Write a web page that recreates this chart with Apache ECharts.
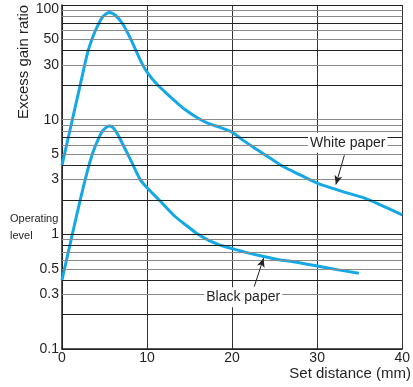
<!DOCTYPE html>
<html>
<head>
<meta charset="utf-8">
<script src="https://cdn.jsdelivr.net/npm/echarts@6/dist/echarts.min.js"></script>
<style>
html,body{margin:0;padding:0;background:#fff;}
#chart{width:413px;height:387px;}
</style>
</head>
<body>
<div id="chart"></div>
<script>
// ---- data ----
const xTicks = [0, 10, 20, 30, 40];
const yLabelValues = [100, 50, 30, 10, 5, 3, 1, 0.5, 0.3, 0.1];
const yGridValues = [0.1, 0.2, 0.3, 0.4, 0.5, 0.6, 0.7, 0.8, 0.9, 1, 2, 3, 4, 5, 6, 7, 8, 9, 10, 20, 30, 40, 50, 60, 70, 80, 90, 100];
const yDarkValues = [0.1, 0.2, 0.4, 0.8, 1, 2, 4, 7, 20, 40, 70, 100];
const whitePaper = [[0,4.0],[1,8.5],[2,18],[3,38],[3.6,52],[4.2,66],[4.8,79],[5.6,86],[6.3,81],[7.1,69],[8,52],[8.7,40],[9.4,31],[10,26],[11,21],[12.1,17.5],[13.3,14.5],[14.5,12.2],[16,10.3],[17.2,9.3],[18.5,8.6],[19.9,7.85],[21.3,6.6],[23,5.44],[24.5,4.6],[26,3.9],[28,3.3],[30,2.8],[33,2.36],[35.5,2.08],[37.5,1.8],[40,1.48]];
const blackPaper = [[0,0.40],[1,0.85],[2,1.8],[3,3.6],[3.6,5.1],[4.2,6.6],[4.8,8.0],[5.6,8.8],[6.3,8.0],[7.1,6.2],[8.3,4.1],[9.2,3.0],[10,2.55],[11.4,2.0],[13.3,1.43],[14.8,1.17],[16,1.0],[17.2,0.89],[18.5,0.81],[19.9,0.755],[21.5,0.70],[23.7,0.64],[25.5,0.60],[27.2,0.577],[30,0.53],[32.5,0.49],[34.9,0.457]];
const seriesNames = ['White paper', 'Black paper'];
const labelPos = { white: [33.6, 6.3], black: [21.3, 0.283] };
const arrowWhite = [[33.2, 4.9], [32.2, 2.72]];
const arrowBlack = [[22.6, 0.35], [23.7, 0.62]];

const FONT = '"Liberation Sans", Arial, Helvetica, sans-serif';
const TXT = '#231f20';
const CURVE = '#14a8e6';

const chart = echarts.init(document.getElementById('chart'), null, { renderer: 'canvas' });

const gridLines = yGridValues.map(v => {
  const item = {
    yAxis: v,
    lineStyle: { color: yDarkValues.includes(v) ? '#222' : '#8a8a8a', width: 1, type: 'solid' },
    label: { show: false }
  };
  if (yLabelValues.includes(v)) {
    item.label = {
      show: true, position: 'start', distance: 3,
      formatter: String(v), fontSize: 14, color: TXT, fontFamily: FONT,
      offset: v === 100 ? [0, 4] : [0, 0]
    };
  }
  return item;
});

chart.setOption({
  animation: false,
  backgroundColor: '#fff',
  grid: { left: 62, right: 6, top: 5, bottom: 38, containLabel: false },
  xAxis: {
    type: 'value', min: 0, max: 40, interval: 10,
    axisLine: { show: true, lineStyle: { color: '#222', width: 1.5 } },
    axisTick: { show: false },
    axisLabel: { fontSize: 14, color: TXT, fontFamily: FONT, margin: 2,
      formatter: v => xTicks.includes(v) ? String(v) : '' },
    splitLine: { show: true, lineStyle: { color: '#333', width: 1 } }
  },
  yAxis: {
    type: 'log', logBase: 10, min: 0.1, max: 100,
    axisLine: { show: true, lineStyle: { color: '#222', width: 1.5 } },
    axisTick: { show: false },
    axisLabel: { show: false },
    splitLine: { show: false }
  },
  graphic: [
    { type: 'text', x: 24, y: 62, rotation: Math.PI / 2, z: 10,
      style: { text: 'Excess gain ratio', font: '15px ' + FONT, fill: TXT, align: 'center', verticalAlign: 'middle' } },
    { type: 'text', x: 10, y: 210, z: 10,
      style: { text: 'Operating\nlevel', font: '11px ' + FONT, fill: TXT, align: 'left', verticalAlign: 'top', lineHeight: 17 } },
    { type: 'text', right: 2, top: 366, z: 10,
      style: { text: 'Set distance (mm)', font: '15px ' + FONT, fill: TXT } }
  ],
  series: [
    {
      type: 'line', name: 'grid', data: [], z: 1, silent: true,
      markLine: { silent: true, symbol: 'none', animation: false, data: gridLines }
    },
    {
      type: 'line', name: seriesNames[0], data: whitePaper, smooth: 0.3, showSymbol: false, z: 3,
      lineStyle: { color: CURVE, width: 3 }, itemStyle: { color: CURVE }
    },
    {
      type: 'line', name: seriesNames[1], data: blackPaper, smooth: 0.3, showSymbol: false, z: 3,
      lineStyle: { color: CURVE, width: 3 }, itemStyle: { color: CURVE }
    },
    {
      type: 'line', name: 'annot', data: [], z: 5, silent: true,
      markLine: {
        silent: true, symbol: ['none', 'arrow'], symbolSize: [6, 9], animation: false,
        lineStyle: { color: '#222', width: 1, type: 'solid' }, label: { show: false },
        data: [
          [{ coord: arrowWhite[0] }, { coord: arrowWhite[1] }],
          [{ coord: arrowBlack[0] }, { coord: arrowBlack[1] }]
        ]
      },
      markPoint: {
        silent: true, symbol: 'rect', symbolSize: 0, animation: false,
        label: { show: true, position: 'inside', fontSize: 14, color: TXT, fontFamily: FONT,
          backgroundColor: '#fff', padding: [3, 2, 3, 2] },
        data: [
          { coord: labelPos.white, value: seriesNames[0], label: { formatter: seriesNames[0] } },
          { coord: labelPos.black, value: seriesNames[1], label: { formatter: seriesNames[1] } }
        ]
      }
    }
  ]
});
</script>
</body>
</html>
